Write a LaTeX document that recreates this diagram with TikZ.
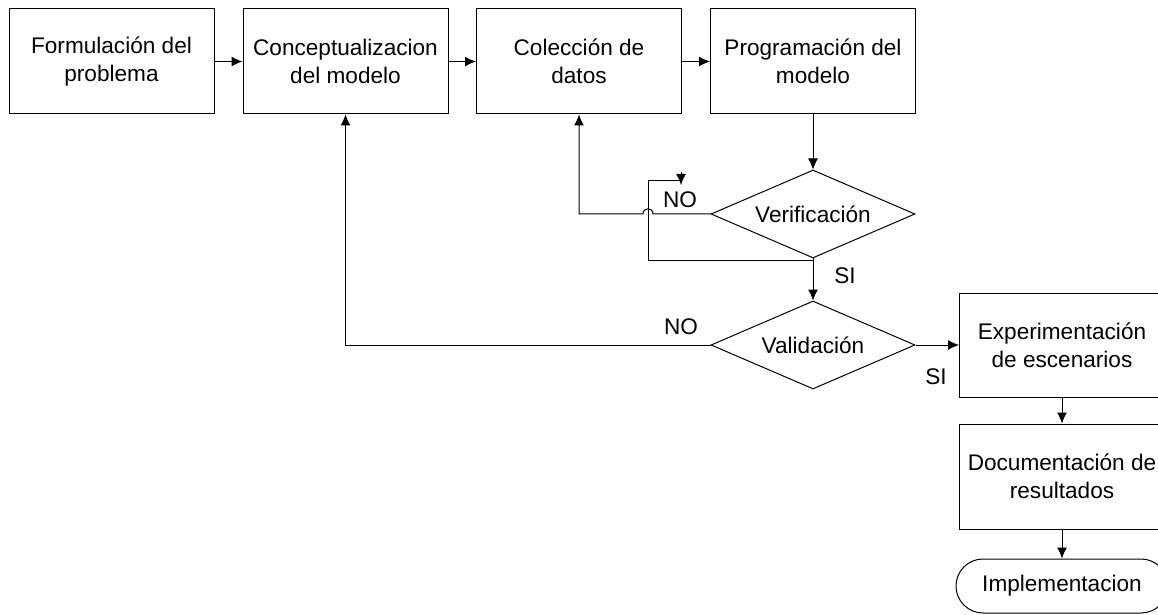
\documentclass[tikz,border=0pt]{standalone}
\usepackage{fontspec}
\setmainfont{Liberation Sans}
\usetikzlibrary{shapes.geometric,arrows.meta}
\begin{document}
\begin{tikzpicture}[x=0.5pt,y=-0.5pt,
  every node/.style={font=\fontsize{11.3}{14}\selectfont},
  procbox/.style={draw,line width=0.5pt,minimum width=102.5pt,minimum height=52.5pt,align=center,inner sep=0pt},
  decbox/.style={draw,diamond,line width=0.5pt,minimum width=102pt,minimum height=44pt,aspect=2.32,inner sep=0pt,align=center},
  termbox/.style={draw,line width=0.5pt,rounded corners=13.5pt,minimum width=106pt,minimum height=27pt,inner sep=0pt},
  conn/.style={line width=0.5pt},
  arr/.style={conn,-{Latex[length=5.5pt,width=5pt]}},
  lbl/.style={inner sep=0pt}]
\useasboundingbox (0,0) rectangle (1158,615);
\clip (0,0) rectangle (1158,615);
\node[procbox] (b1) at (111.5,61.5) {Formulación del\\problema};
\node[procbox] (b2) at (345.5,61.5) {Conceptualizacion\\del modelo};
\node[procbox] (b3) at (579,61.5) {Colección de\\datos};
\node[procbox] (b4) at (813,61.5) {Programación del\\modelo};
\node[decbox] (ver) at (813,214) {Verificación};
\node[decbox] (val) at (813,345) {Validación};
\node[procbox,minimum height=52pt] (exp) at (1062,345) {Experimentación\\de escenarios};
\node[procbox] (doc) at (1062,476.5) {Documentación de\\resultados};
\node[termbox] (imp) at (1062,586) {Implementacion};
\draw[arr] (b1) -- (b2);
\draw[arr] (b2) -- (b3);
\draw[arr] (b3) -- (b4);
\draw[arr] (b4.south) -- (ver.north);
\draw[arr] (ver.south) -- (val.north);
\draw[arr] (val.east) -- (exp.west);
\draw[arr] (exp.south) -- (doc.north);
\draw[arr] (doc.south) -- (imp.north);
\coordinate (hopR) at (653,214);
\coordinate (hopL) at (643,214);
\draw[arr] (ver.west) -- (hopR) .. controls +(0,-7) and +(0,-7) .. (hopL) -| (b3.south);
\draw[arr] (val.west) -| (b2.south);
\coordinate (j1) at (813,261);
\coordinate (j2) at (648,261);
\coordinate (j3) at (648,181);
\coordinate (j4) at (681,181);
\coordinate (j5) at (681,172);
\coordinate (j6) at (681,185);
\draw[conn] (j1) -- (j2) -- (j3) -- (j4);
\draw[arr] (j5) -- (j6);
\node[lbl] (no1) at (680,200) {NO};
\node[lbl] (si1) at (845,276) {SI};
\node[lbl] (no2) at (681,327) {NO};
\node[lbl] (si2) at (936,377) {SI};
\end{tikzpicture}
\end{document}
